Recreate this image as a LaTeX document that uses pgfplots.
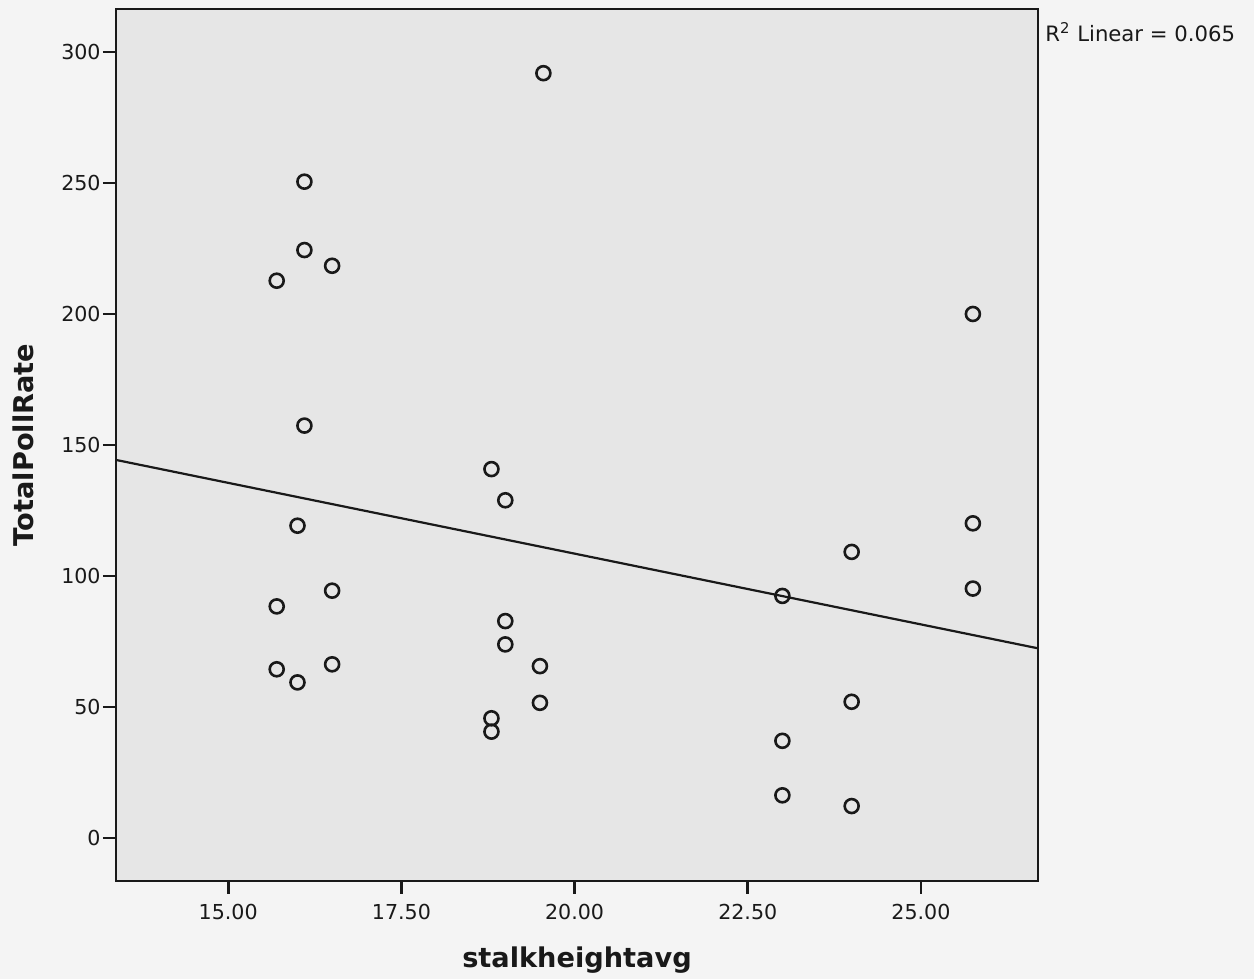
\documentclass[border=0pt]{standalone}
\usepackage{fontspec}
\setmainfont{DejaVu Sans}
\usepackage{pgfplots}
\pgfplotsset{compat=1.18}
\usetikzlibrary{calc}
\definecolor{plotbg}{RGB}{230,230,230}
\definecolor{pagebg}{RGB}{244,244,244}
\definecolor{ink}{RGB}{25,25,25}
\begin{document}
\begin{tikzpicture}
\fill[pagebg] (-58pt,-49pt) rectangle (569pt,440.5pt);
\begin{axis}[
  name=ax, at={(0,0)}, anchor=south west,
  scale only axis, width=461pt, height=436pt,
  xmin=13.38, xmax=26.69, ymin=-16.4, ymax=316.4,
  axis background/.style={fill=plotbg},
  axis line style={ink, line width=1.4pt},
  tick style={ink, line width=1.4pt},
  tick align=outside, major tick length=6.5pt,
  xtick pos=bottom, ytick pos=left,
  xtick={15,17.5,20,22.5,25},
  xticklabels={15.00,17.50,20.00,22.50,25.00},
  ytick={0,50,100,150,200,250,300},
  yticklabels={0,50,100,150,200,250,300},
  ticklabel style={font=\fontsize{10.3}{12}\selectfont, text=ink},
  xticklabel style={inner sep=1pt, yshift=-4pt},
  yticklabel style={inner sep=1pt},
  xlabel={stalkheightavg}, ylabel={TotalPollRate},
  label style={font=\fontsize{13.6}{16}\selectfont\bfseries, text=ink},
  xlabel style={at={(axis description cs:0.5,0)}, anchor=center, yshift=-39.5pt},
  ylabel style={at={(axis description cs:0,0.5)}, anchor=center, rotate=0, yshift=46.5pt},
  clip=false,
]
\addplot[only marks, mark=o, mark size=3.5pt, ink, line width=1.3pt] coordinates {
(16.1,250.5) (16.1,224.4) (16.5,218.4) (15.7,212.7) (16.1,157.4)
(16.0,119.2) (16.5,94.4) (15.7,88.4) (15.7,64.4) (16.5,66.3) (16.0,59.4)
(18.8,140.8) (19.0,128.9) (19.0,82.8) (19.0,73.9) (19.5,65.6) (19.5,51.6)
(18.8,45.7) (18.8,40.6) (19.55,291.9)
(25.75,200.0) (25.75,120.1) (25.75,95.2)
(24.0,109.2) (23.0,92.4) (24.0,52.0) (23.0,37.1) (23.0,16.3) (24.0,12.2)
};
\addplot[ink, line width=1.1pt] coordinates {(13.38,144.3) (26.69,72.4)};
\end{axis}
\node[anchor=base west, inner sep=0pt, font=\fontsize{10.6}{13}\selectfont, text=ink]
  at ($(ax.north east)+(3.5pt,-16.25pt)$) {R\textsuperscript{2} Linear = 0.065};
\pgfresetboundingbox
\useasboundingbox (-58pt,-49pt) rectangle (569pt,440.5pt);
\end{tikzpicture}
\end{document}
